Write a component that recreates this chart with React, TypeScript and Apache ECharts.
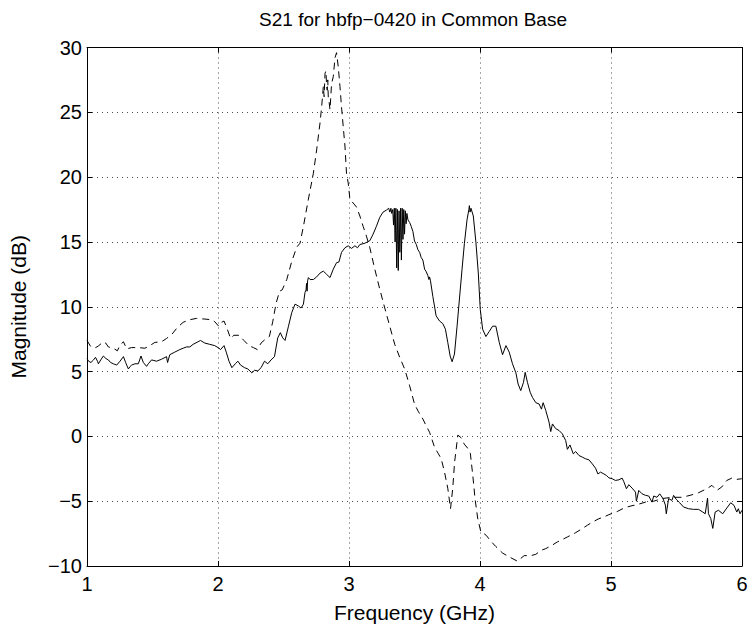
import React, { useEffect, useRef } from "react";
import * as echarts from "echarts";

const titleText = "S21 for hbfp\u22120420 in Common Base";
const xTicks = [1, 2, 3, 4, 5, 6];
const yTicks = [-10, -5, 0, 5, 10, 15, 20, 25, 30];

const freqSolid = [
  1.0, 1.012, 1.03, 1.05, 1.065, 1.08, 1.087, 1.105, 1.125, 1.145, 1.163, 1.18, 1.201, 1.227, 1.252, 1.278, 1.295, 1.303, 1.316, 1.33,
  1.341, 1.366, 1.392, 1.412, 1.43, 1.455, 1.468, 1.493, 1.531, 1.569, 1.607, 1.615, 1.632, 1.67, 1.709, 1.734, 1.759, 1.785, 1.81, 1.848,
  1.866, 1.899, 1.937, 1.975, 2.0, 2.02, 2.046, 2.063, 2.084, 2.106, 2.132, 2.152, 2.172, 2.203, 2.228, 2.258, 2.279, 2.304, 2.329, 2.355,
  2.38, 2.405, 2.431, 2.456, 2.476, 2.494, 2.512, 2.538, 2.563, 2.588, 2.614, 2.634, 2.652, 2.664, 2.672, 2.676, 2.68, 2.684, 2.69, 2.703,
  2.728, 2.753, 2.779, 2.804, 2.829, 2.855, 2.88, 2.905, 2.923, 2.943, 2.969, 2.994, 3.019, 3.045, 3.065, 3.083, 3.121, 3.159, 3.184, 3.209,
  3.235, 3.26, 3.285, 3.303, 3.312, 3.32, 3.326, 3.334, 3.34, 3.346, 3.352, 3.358, 3.364, 3.37, 3.376, 3.382, 3.388, 3.394, 3.4, 3.406,
  3.412, 3.418, 3.424, 3.43, 3.436, 3.442, 3.45, 3.463, 3.475, 3.488, 3.5, 3.514, 3.526, 3.539,
  3.551, 3.564, 3.577, 3.59, 3.602, 3.61, 3.615, 3.622, 3.64, 3.665, 3.691, 3.716, 3.736, 3.754, 3.772, 3.787, 3.805, 3.825, 3.843, 3.863,
  3.881, 3.901, 3.915, 3.919, 3.924, 3.931, 3.949, 3.969, 3.987, 4.002, 4.02, 4.045, 4.071, 4.096, 4.121, 4.147, 4.172, 4.198, 4.223, 4.248,
  4.274, 4.291, 4.311, 4.332, 4.345, 4.362, 4.383, 4.401, 4.426, 4.451, 4.469, 4.482, 4.502, 4.527, 4.54, 4.553, 4.578, 4.604, 4.629, 4.654,
  4.667, 4.687, 4.712, 4.73, 4.756, 4.781, 4.806, 4.832, 4.857, 4.882, 4.9, 4.92, 4.946, 4.966, 4.984, 5.009, 5.034, 5.06, 5.085, 5.098,
  5.118, 5.136, 5.161, 5.187, 5.194, 5.212, 5.237, 5.263, 5.288, 5.313, 5.326, 5.351, 5.372, 5.397, 5.415, 5.422, 5.44, 5.465, 5.478, 5.498,
  5.524, 5.554, 5.592, 5.63, 5.668, 5.701, 5.719, 5.737, 5.744, 5.762, 5.777, 5.795, 5.82, 5.853, 5.884, 5.914, 5.939, 5.96, 5.972, 5.985,
  6.0,
];
const magSolid = [
  6.0, 5.8, 5.7, 5.9, 6.1, 5.8, 5.6, 5.9, 6.2, 6.0, 5.9, 5.7, 5.6, 5.5, 5.8, 6.15, 5.7, 5.5, 5.2, 5.4,
  5.5, 5.6, 5.6, 6.2, 5.7, 5.4, 5.6, 5.9, 5.8, 5.95, 6.15, 5.7, 6.3, 6.5, 6.7, 6.8, 6.9, 6.9, 7.1, 7.3,
  7.4, 7.2, 7.1, 7.0, 6.85, 6.7, 7.0, 6.5, 5.8, 5.3, 5.6, 5.8, 5.5, 5.3, 5.2, 4.9, 5.1, 5.05, 5.3, 5.8,
  5.6, 5.9, 6.15, 7.6, 8.0, 7.6, 7.4, 8.5, 9.55, 10.2, 10.06, 9.9, 10.2, 11.1, 11.3, 11.8, 11.2, 12.0, 12.25, 12.1,
  12.1, 12.3, 12.6, 12.75, 12.5, 12.25, 12.9, 13.4, 13.45, 14.2, 14.55, 14.7, 14.5, 14.7, 14.55, 14.8, 14.9, 15.1, 15.6, 16.2,
  16.9, 17.3, 17.45, 17.6, 17.3, 17.6, 17.2, 17.5, 16.3, 17.6, 15.0, 17.6, 13.0, 17.5, 12.8, 17.4, 14.2, 17.6, 13.6, 17.6,
  15.2, 17.5, 15.6, 17.4, 16.4, 17.2, 16.7, 16.5, 16.2, 15.8, 15.07, 14.8, 14.4, 14.2,
  13.8, 13.6, 12.9, 12.7, 12.4, 12.1, 12.3, 12.0, 10.8, 9.3, 8.9, 8.7, 8.27, 7.25, 6.2, 5.76, 6.35, 8.5, 10.6, 12.9,
  14.9, 16.7, 17.5, 17.8, 17.3, 17.6, 17.0, 14.94, 12.6, 9.8, 8.27, 7.7, 8.1, 8.5, 8.5, 7.25, 6.3, 7.0, 6.5, 5.6,
  4.9, 4.04, 3.53, 4.17, 4.94, 4.17, 3.4, 3.0, 2.6, 2.5, 2.1, 2.6, 2.0, 1.1, 0.37, 0.96, 0.6, 0.45, 0.19, -0.32,
  -1.0, -0.66, -1.35, -1.17, -1.48, -1.6, -1.73, -1.81, -2.12, -2.45, -2.9, -2.76, -2.9, -3.02, -3.2, -3.27, -3.4, -3.35, -3.22, -3.5,
  -4.04, -3.73, -3.99, -4.3, -5.0, -4.17, -4.43, -4.55, -4.6, -5.07, -4.6, -4.7, -4.43, -4.8, -5.3, -5.97, -4.8, -4.94, -4.55, -4.86,
  -5.12, -5.45, -5.58, -5.63, -5.63, -5.84, -5.97, -4.76, -5.97, -6.35, -7.1, -5.84, -5.7, -5.97, -5.53, -5.12, -5.32, -5.84, -5.58, -5.97,
  -5.7,
];

const freqDashed = [
  1.0, 1.03, 1.067, 1.09, 1.125, 1.143, 1.163, 1.181, 1.201, 1.232, 1.252, 1.278, 1.303, 1.341, 1.392, 1.442, 1.48, 1.518, 1.569, 1.607,
  1.65, 1.69, 1.734, 1.785, 1.835, 1.9, 1.95, 1.975, 2.005, 2.028, 2.046, 2.07, 2.096, 2.121, 2.16, 2.198, 2.236, 2.27, 2.3, 2.329,
  2.367, 2.392, 2.418, 2.443, 2.47, 2.49, 2.525, 2.563, 2.601, 2.626, 2.652, 2.69, 2.728, 2.753, 2.779, 2.791, 2.804, 2.81, 2.817, 2.824,
  2.829, 2.834, 2.838, 2.842, 2.848, 2.855, 2.867, 2.88, 2.893, 2.905, 2.918, 2.931, 2.943, 2.956, 2.969, 2.981, 2.994, 3.007, 3.032, 3.057,
  3.083, 3.108, 3.133, 3.159, 3.197, 3.235, 3.273, 3.311, 3.349, 3.387, 3.425, 3.463, 3.5, 3.53, 3.564, 3.59, 3.615, 3.653, 3.68, 3.704,
  3.729, 3.754, 3.775, 3.792, 3.806, 3.831, 3.855, 3.88, 3.905, 3.926, 3.945, 3.962, 3.982, 4.007, 4.03, 4.047, 4.084, 4.121, 4.172, 4.223,
  4.286, 4.337, 4.388, 4.426, 4.464, 4.502, 4.55, 4.591, 4.63, 4.667, 4.73, 4.775, 4.819, 4.86, 4.908, 4.95, 4.984, 5.047, 5.085, 5.123,
  5.16, 5.199, 5.263, 5.326, 5.389, 5.465, 5.541, 5.604, 5.668, 5.731, 5.77, 5.808, 5.846, 5.884, 5.922, 5.955, 5.998,
];
const magDashed = [
  7.4, 6.9, 6.85, 7.0, 7.3, 7.2, 6.9, 6.85, 6.8, 6.6, 7.05, 7.3, 6.75, 6.85, 6.85, 6.8, 7.0, 7.25, 7.3, 7.55,
  7.9, 8.4, 8.8, 9.0, 9.1, 9.05, 9.0, 8.85, 8.5, 8.8, 8.9, 8.3, 7.55, 7.8, 7.8, 7.4, 7.0, 6.85, 6.7, 7.2,
  7.55, 7.7, 8.85, 10.25, 11.2, 11.3, 12.1, 13.5, 14.6, 14.9, 16.2, 18.3, 20.3, 22.1, 24.2, 25.4, 27.0, 26.2, 28.0, 28.2,
  27.0, 26.7, 27.5, 26.1, 25.8, 25.2, 27.2, 27.75, 29.2, 29.6, 28.5, 27.0, 25.4, 23.9, 22.4, 20.3, 19.55, 18.3, 18.0, 17.7,
  17.0, 16.2, 15.45, 14.55, 12.9, 11.35, 9.9, 8.5, 7.1, 6.1, 5.2, 3.9, 2.5, 1.9, 1.34, 0.8, 0.32, -0.84, -1.3, -1.73,
  -2.75, -4.0, -5.58, -4.0, -1.99, 0.1, -0.1, -0.6, -0.9, -1.3, -3.0, -4.8, -6.3, -7.4, -7.5, -7.63, -8.1, -8.5, -9.0, -9.3,
  -9.63, -9.2, -9.2, -9.1, -8.8, -8.66, -8.4, -8.14, -7.95, -7.76, -7.43, -7.15, -6.86, -6.6, -6.35, -6.2, -6.04, -5.8, -5.6, -5.45,
  -5.35, -5.27, -5.07, -5.0, -4.8, -4.7, -4.7, -4.55, -4.35, -4.04, -3.78, -4.17, -3.9, -3.4, -3.22, -3.32, -3.27,
];

const FONT = "Liberation Sans, Arial, Helvetica, sans-serif";

export default function App() {
  const ref = useRef<HTMLDivElement>(null);
  useEffect(() => {
    document.body.style.margin = "0";
    if (!ref.current) return;
    const chart = echarts.init(ref.current, null, { renderer: "svg" });
    const solid = freqSolid.map((f, i) => [f, magSolid[i]]);
    const dashed = freqDashed.map((f, i) => [f, magDashed[i]]);
    const minus = (v: number) => String(v).replace("-", "\u2212");
    const gridLine = { show: true, lineStyle: { color: "#000", width: 1, type: [1, 4] as any, opacity: 0.7 } };
    const line = { show: true, onZero: false, lineStyle: { color: "#000", width: 1 } };
    const tick = { show: true, inside: true, length: 5, lineStyle: { color: "#000", width: 1 } };
    chart.setOption({
      animation: false,
      backgroundColor: "#fff",
      textStyle: { fontFamily: FONT },
      grid: { left: 84.5, right: 10, top: 47.5, bottom: 60.5, containLabel: false },
      graphic: [
        {
          type: "text",
          x: 413,
          y: 19,
          style: { text: titleText, align: "center", verticalAlign: "middle", fontSize: 19, fontFamily: FONT, fill: "#000" },
        },
      ],
      xAxis: [
        {
          type: "value", min: xTicks[0], max: xTicks[xTicks.length - 1], interval: 1, position: "bottom",
          name: "Frequency (GHz)", nameLocation: "middle", nameGap: 36,
          nameTextStyle: { fontSize: 21, color: "#000", fontFamily: FONT },
          axisLine: line, axisTick: tick, splitLine: gridLine,
          axisLabel: { fontSize: 20, color: "#000", margin: 8, fontFamily: FONT },
        },
        {
          type: "value", min: xTicks[0], max: xTicks[xTicks.length - 1], interval: 1, position: "top",
          axisLine: line, axisTick: tick, splitLine: { show: false }, axisLabel: { show: false },
        },
      ],
      yAxis: [
        {
          type: "value", min: yTicks[0], max: yTicks[yTicks.length - 1], interval: 5, position: "left",
          name: "Magnitude (dB)", nameLocation: "middle", nameGap: 58,
          nameTextStyle: { fontSize: 21, color: "#000", fontFamily: FONT },
          axisLine: line, axisTick: tick, splitLine: gridLine,
          axisLabel: { fontSize: 20, color: "#000", margin: 5, fontFamily: FONT, formatter: minus },
        },
        {
          type: "value", min: yTicks[0], max: yTicks[yTicks.length - 1], interval: 5, position: "right",
          axisLine: line, axisTick: tick, splitLine: { show: false }, axisLabel: { show: false },
        },
      ],
      series: [
        {
          type: "line", data: solid, showSymbol: false, symbol: "none", xAxisIndex: 0, yAxisIndex: 0,
          lineStyle: { color: "#000", width: 1, type: "solid" }, z: 3,
        },
        {
          type: "line", data: dashed, showSymbol: false, symbol: "none", xAxisIndex: 0, yAxisIndex: 0,
          lineStyle: { color: "#000", width: 1, type: [7, 5] }, z: 3,
        },
      ],
    });
    return () => chart.dispose();
  }, []);
  return <div ref={ref} style={{ width: 752, height: 628 }} />;
}
